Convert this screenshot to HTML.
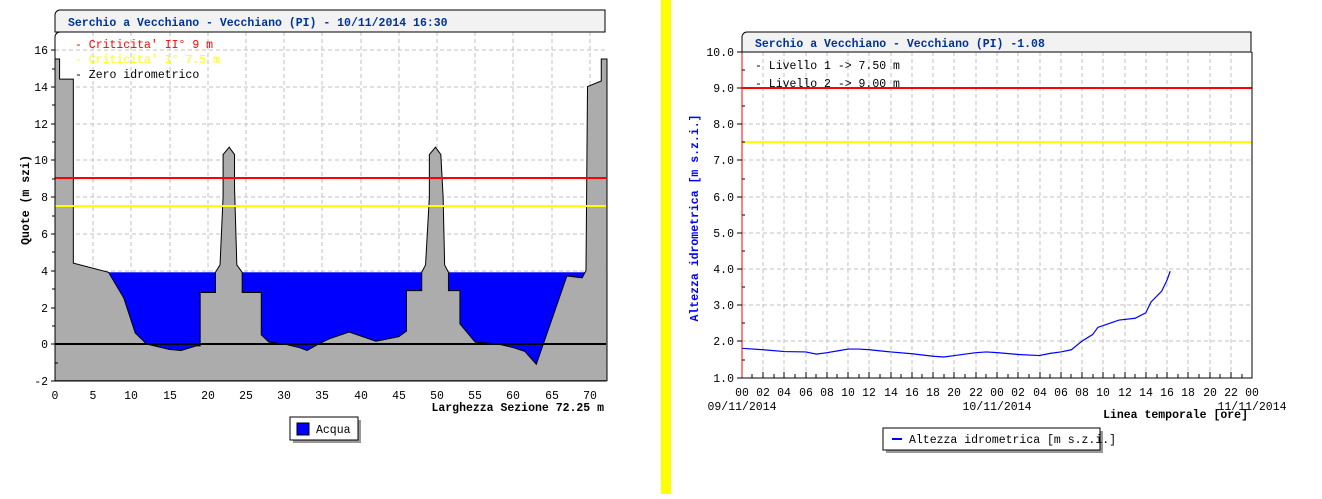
<!DOCTYPE html>
<html><head><meta charset="utf-8"><style>
body{margin:0;background:#fff;width:1322px;height:494px;overflow:hidden}
text{font-family:"Liberation Mono","DejaVu Sans Mono",monospace;font-size:11.5px}
</style></head><body>
<svg width="1322" height="494" viewBox="0 0 1322 494" xmlns="http://www.w3.org/2000/svg">
<rect x="661" y="0" width="10" height="494" fill="#ffff00"/>
<!-- LEFT CHART -->
<g stroke="#c0c0c0" stroke-dasharray="4,3" stroke-width="1">
<line x1="93" y1="32" x2="93" y2="381"/><line x1="131" y1="32" x2="131" y2="381"/><line x1="170" y1="32" x2="170" y2="381"/><line x1="208" y1="32" x2="208" y2="381"/><line x1="246" y1="32" x2="246" y2="381"/><line x1="284" y1="32" x2="284" y2="381"/><line x1="322" y1="32" x2="322" y2="381"/><line x1="361" y1="32" x2="361" y2="381"/><line x1="399" y1="32" x2="399" y2="381"/><line x1="437" y1="32" x2="437" y2="381"/><line x1="475" y1="32" x2="475" y2="381"/><line x1="513" y1="32" x2="513" y2="381"/><line x1="552" y1="32" x2="552" y2="381"/><line x1="590" y1="32" x2="590" y2="381"/>
<line x1="55" y1="50" x2="606" y2="50"/><line x1="55" y1="87" x2="606" y2="87"/><line x1="55" y1="124" x2="606" y2="124"/><line x1="55" y1="160" x2="606" y2="160"/><line x1="55" y1="197" x2="606" y2="197"/><line x1="55" y1="234" x2="606" y2="234"/><line x1="55" y1="271" x2="606" y2="271"/><line x1="55" y1="308" x2="606" y2="308"/>
</g>
<g transform="translate(55,344) scale(7.64,-18.39)">
<rect x="7" y="-1.2" width="62.5" height="5.1" fill="#0000ff"/>
<polygon fill="#acacac" stroke="#000" stroke-width="1" vector-effect="non-scaling-stroke" points="0,15.5 0.6,15.5 0.6,14.4 2.4,14.4 2.4,4.4 7,3.9 9,2.5 10.5,0.6 12,0 13,-0.1 15,-0.3 16.5,-0.35 18.5,-0.1 19,-0.1 19,2.8 21,2.8 21,3.9 21.6,4.3 22,8 22,10.3 22.8,10.7 23.5,10.3 23.5,8.5 23.8,4.3 24.5,3.9 24.5,2.8 27,2.8 27,0.5 28,0.1 30,0 32,-0.2 33,-0.35 34.5,0 36,0.3 38.5,0.65 42,0.15 45,0.4 46,0.7 46,2.9 48,2.9 48,3.9 48.5,4.3 49,8 49,10.3 49.8,10.7 50.5,10.3 50.8,8 51,4.3 51.5,3.9 51.5,2.9 53,2.9 53,1.1 55,0.1 58,0 60,-0.2 61.5,-0.4 63,-1.1 67,3.7 69,3.6 69.5,4 69.7,14 71.5,14.3 71.5,15.5 72.25,15.5 72.25,-2 0,-2"/>
</g>
<line x1="55" y1="178" x2="606" y2="178" stroke="#ff0000" stroke-width="2"/>
<line x1="55" y1="206" x2="606" y2="206" stroke="#ffff00" stroke-width="2"/>
<line x1="55" y1="344" x2="606" y2="344" stroke="#000" stroke-width="2"/>
<path d="M55,381V37a5,5 0 0 1 5,-5M55,381H606" stroke="#000" fill="none"/>
<path d="M55,32V15a5,5 0 0 1 5,-5H605V32Z" fill="#f2f2f2" stroke="#000"/>
<text x="68" y="26" fill="#003399" font-weight="bold" font-size="13.6">Serchio a Vecchiano - Vecchiano (PI) - 10/11/2014 16:30</text>
<text x="75" y="48" fill="#ff0000" font-size="12.5">- Criticita' II° 9 m</text>
<text x="75" y="63" fill="#ffff00" font-size="12.5">- Criticita' I° 7.5 m</text>
<text x="75" y="78" fill="#000" font-size="12.5">- Zero idrometrico</text>
<g fill="#000" text-anchor="end">
<text x="48" y="54">16</text><text x="48" y="91">14</text><text x="48" y="128">12</text><text x="48" y="164">10</text><text x="48" y="201">8</text><text x="48" y="238">6</text><text x="48" y="275">4</text><text x="48" y="312">2</text><text x="48" y="348">0</text><text x="48" y="385">-2</text>
</g>
<g stroke="#000"><path d="M51,50h4M51,87h4M51,124h4M51,160h4M51,197h4M51,234h4M51,271h4M51,308h4M51,344h4M51,381h4M52,69h3M52,105h3M52,142h3M52,179h3M52,216h3M52,252h3M52,289h3M52,326h3M55,363h3"/></g>
<g fill="#000" text-anchor="middle">
<text x="55" y="399">0</text><text x="93" y="399">5</text><text x="131" y="399">10</text><text x="170" y="399">15</text><text x="208" y="399">20</text><text x="246" y="399">25</text><text x="284" y="399">30</text><text x="322" y="399">35</text><text x="361" y="399">40</text><text x="399" y="399">45</text><text x="437" y="399">50</text><text x="475" y="399">55</text><text x="513" y="399">60</text><text x="552" y="399">65</text><text x="590" y="399">70</text>
</g>
<text x="604" y="411" text-anchor="end" font-weight="bold" font-size="12.6">Larghezza Sezione 72.25 m</text>
<text transform="translate(29,200) rotate(-90)" text-anchor="middle" font-weight="bold">Quote (m szi)</text>
<rect x="293" y="420" width="68" height="23" fill="#999"/>
<rect x="290" y="417" width="68" height="23" fill="#fff" stroke="#000"/>
<rect x="297" y="423" width="12" height="12" fill="#0000ff" stroke="#000"/>
<text x="316" y="433">Acqua</text>

<!-- RIGHT CHART -->
<g stroke="#c0c0c0" stroke-dasharray="4,3">
<path d="M763,52V378M784,52V378M806,52V378M827,52V378M848,52V378M869,52V378M891,52V378M912,52V378M933,52V378M954,52V378M976,52V378M997,52V378M1018,52V378M1040,52V378M1061,52V378M1082,52V378M1103,52V378M1125,52V378M1146,52V378M1167,52V378M1188,52V378M1210,52V378M1231,52V378"/>
<path d="M742,88H1252M742,124H1252M742,160H1252M742,197H1252M742,233H1252M742,269H1252M742,305H1252M742,341H1252"/>
</g>
<line x1="742" y1="88" x2="1252" y2="88" stroke="#ff0000" stroke-width="2"/>
<line x1="742" y1="142" x2="1252" y2="142" stroke="#ffff00" stroke-width="2"/>
<g transform="translate(742,414.2) scale(10.625,-36.2)">
<polyline fill="none" stroke="#0000ff" stroke-width="1.2" vector-effect="non-scaling-stroke" points="0,1.82 2,1.78 4,1.73 6,1.72 7,1.66 8,1.7 9,1.75 10,1.8 11,1.8 12,1.78 14,1.72 16,1.67 18,1.6 19,1.58 20,1.62 22,1.7 23,1.72 24,1.7 26,1.65 28,1.62 29,1.68 30,1.72 31,1.78 32,2.02 33,2.2 33.5,2.4 34.5,2.5 35.5,2.6 37,2.65 38,2.8 38.5,3.1 39.5,3.4 40,3.7 40.3,3.95"/>
</g>
<line x1="742" y1="52" x2="742" y2="378" stroke="#ff0000"/>
<path d="M742,378H1252V52" stroke="#000" fill="none"/>
<path d="M742,52V37a5,5 0 0 1 5,-5H1251V52Z" fill="#f2f2f2" stroke="#000"/>
<text x="755" y="47" fill="#003399" font-weight="bold" font-size="13.4">Serchio a Vecchiano - Vecchiano (PI) -1.08</text>
<text x="755" y="69" fill="#000" font-size="12.5">- Livello 1 -&gt; 7.50 m</text>
<text x="755" y="87" fill="#000" font-size="12.5">- Livello 2 -&gt; 9.00 m</text>
<g fill="#000" text-anchor="end">
<text x="734" y="56">10.0</text><text x="734" y="92">9.0</text><text x="734" y="128">8.0</text><text x="734" y="164">7.0</text><text x="734" y="201">6.0</text><text x="734" y="237">5.0</text><text x="734" y="273">4.0</text><text x="734" y="309">3.0</text><text x="734" y="345">2.0</text><text x="734" y="382">1.0</text>
</g>
<g stroke="#000"><path d="M737,52h5M737,88h5M737,124h5M737,160h5M737,197h5M737,233h5M737,269h5M737,305h5M737,341h5M737,378h5M742,70h3M742,106h3M742,142h3M742,179h3M742,215h3M742,251h3M742,287h3M742,323h3M742,360h3"/>
<path d="M752,378v-4M763,378v-6M774,378v-4M784,378v-6M795,378v-4M806,378v-6M816,378v-4M827,378v-6M837,378v-4M848,378v-6M859,378v-4M869,378v-6M880,378v-4M891,378v-6M901,378v-4M912,378v-6M922,378v-4M933,378v-6M944,378v-4M954,378v-6M965,378v-4M976,378v-6M986,378v-4M997,378v-6M1008,378v-4M1018,378v-6M1029,378v-4M1040,378v-6M1050,378v-4M1061,378v-6M1071,378v-4M1082,378v-6M1093,378v-4M1103,378v-6M1114,378v-4M1125,378v-6M1135,378v-4M1146,378v-6M1157,378v-4M1167,378v-6M1178,378v-4M1188,378v-6M1199,378v-4M1210,378v-6M1220,378v-4M1231,378v-6M1242,378v-4"/></g>
<g fill="#000" text-anchor="middle">
<text x="742" y="396">00</text><text x="763" y="396">02</text><text x="784" y="396">04</text><text x="806" y="396">06</text><text x="827" y="396">08</text><text x="848" y="396">10</text><text x="869" y="396">12</text><text x="891" y="396">14</text><text x="912" y="396">16</text><text x="933" y="396">18</text><text x="954" y="396">20</text><text x="976" y="396">22</text><text x="997" y="396">00</text><text x="1018" y="396">02</text><text x="1040" y="396">04</text><text x="1061" y="396">06</text><text x="1082" y="396">08</text><text x="1103" y="396">10</text><text x="1125" y="396">12</text><text x="1146" y="396">14</text><text x="1167" y="396">16</text><text x="1188" y="396">18</text><text x="1210" y="396">20</text><text x="1231" y="396">22</text><text x="1252" y="396">00</text>
<text x="742" y="410">09/11/2014</text><text x="997" y="410">10/11/2014</text><text x="1252" y="410">11/11/2014</text>
</g>
<text x="1248" y="418" text-anchor="end" font-weight="bold" font-size="12.6">Linea temporale [ore]</text>
<text transform="translate(698,218) rotate(-90)" text-anchor="middle" font-weight="bold" fill="#0000ff" font-size="12">Altezza idrometrica [m s.z.i.]</text>
<rect x="886" y="431" width="217" height="22" fill="#999"/>
<rect x="883" y="428" width="217" height="22" fill="#fff" stroke="#000"/>
<line x1="892" y1="439" x2="902" y2="439" stroke="#0000ff" stroke-width="2"/>
<text x="909" y="443" font-size="12">Altezza idrometrica [m s.z.i.]</text>
</svg>
</body></html>
